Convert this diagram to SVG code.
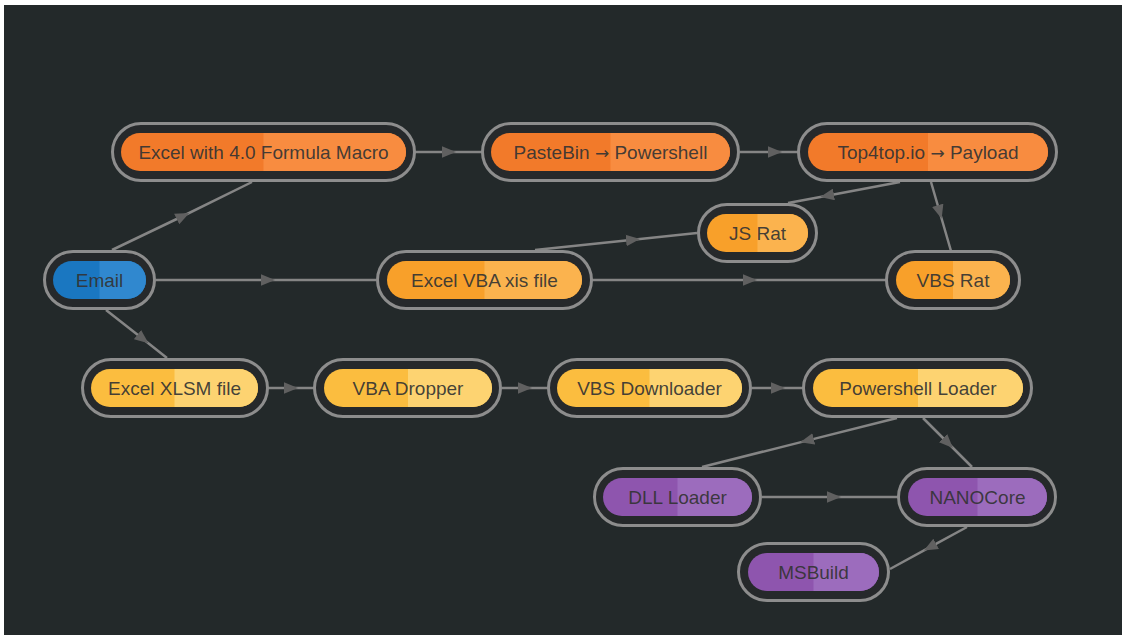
<svg xmlns="http://www.w3.org/2000/svg" width="1123" height="637" viewBox="0 0 1123 637">
<defs>
<style>
.outer{fill:#26292b;stroke:#8d8d8d;stroke-width:3}
.lbl{font-family:"Liberation Sans",Arial,sans-serif;font-size:19px;fill:#333;fill-opacity:0.92;text-anchor:middle}
.ar{font-family:"DejaVu Sans",sans-serif;font-size:17px}
.edge{fill:none;stroke:#858585;stroke-width:2.5;marker-mid:url(#arr)}
.orange .inL{fill:#f27a2a}.orange .inR{fill:#f88c40}
.amber .inL{fill:#f8a02a}.amber .inR{fill:#fbb34e}
.yellow .inL{fill:#fbbd3f}.yellow .inR{fill:#fdd371}
.blue .inL{fill:#1a77c1}.blue .inR{fill:#3088cf}
.purple .inL{fill:#8e55ae}.purple .inR{fill:#9c6cbd}
</style>
<marker id="arr" viewBox="0 0 12 10" refX="6" refY="5" markerWidth="14" markerHeight="12" markerUnits="userSpaceOnUse" orient="auto">
<path d="M0,0 L12,5 L0,10 Z" fill="#606060"/>
</marker>
</defs>
<rect x="0" y="0" width="1123" height="637" fill="#ffffff"/>
<rect x="4" y="5" width="1118" height="630" fill="#23292a"/>

<g id="connectors">
<polyline class="edge" points="112,250 183,216 252,182"/>
<polyline class="edge" points="156,280 268,280 376,280"/>
<polyline class="edge" points="106,310 143,339 167,358"/>
<polyline class="edge" points="415,152 449,152 482,152"/>
<polyline class="edge" points="740,152 775,152 798,152"/>
<polyline class="edge" points="900,182 827,195.7 788,203"/>
<polyline class="edge" points="931,182 939.7,212 951,251"/>
<polyline class="edge" points="535,250 633,239.7 697,233"/>
<polyline class="edge" points="592,280 750,280 886,280"/>
<polyline class="edge" points="268,388 291,388 314,388"/>
<polyline class="edge" points="502,388 525,388 548,388"/>
<polyline class="edge" points="752,388 778,388 803,388"/>
<polyline class="edge" points="897,418 807,440.6 702,467"/>
<polyline class="edge" points="923,418 948,443 972,467"/>
<polyline class="edge" points="762,497 834,497 898,497"/>
<polyline class="edge" points="967,527 930,547.2 890,569"/>
</g>

<g id="n-email" class="blue">
<rect class="outer" x="44.5" y="251.5" width="110" height="57" rx="28.5"/>
<rect class="inL" x="53" y="261" width="93" height="38" rx="19"/>
<path class="inR" d="M99.5,261 H127 A19,19 0 0 1 127,299 H99.5 Z"/>
<text class="lbl" x="99.5" y="287">Email</text>
</g>

<g id="n-excel40" class="orange">
<rect class="outer" x="112.5" y="123.5" width="302" height="57" rx="28.5"/>
<rect class="inL" x="121" y="133" width="285" height="38" rx="19"/>
<path class="inR" d="M263.5,133 H387 A19,19 0 0 1 387,171 H263.5 Z"/>
<text class="lbl" x="263.5" y="159">Excel with 4.0 Formula Macro</text>
</g>

<g id="n-pastebin" class="orange">
<rect class="outer" x="482.5" y="123.5" width="256" height="57" rx="28.5"/>
<rect class="inL" x="491" y="133" width="239" height="38" rx="19"/>
<path class="inR" d="M610.5,133 H711 A19,19 0 0 1 711,171 H610.5 Z"/>
<text class="lbl" x="610.5" y="159">PasteBin <tspan class="ar">→</tspan> Powershell</text>
</g>

<g id="n-top4top" class="orange">
<rect class="outer" x="798.5" y="123.5" width="258" height="57" rx="28.5"/>
<rect class="inL" x="808" y="133" width="240" height="38" rx="19"/>
<path class="inR" d="M928,133 H1029 A19,19 0 0 1 1029,171 H928 Z"/>
<text class="lbl" x="928" y="159">Top4top.io <tspan class="ar">→</tspan> Payload</text>
</g>

<g id="n-jsrat" class="amber">
<rect class="outer" x="698.5" y="204.5" width="118" height="57" rx="28.5"/>
<rect class="inL" x="707" y="214" width="101" height="38" rx="19"/>
<path class="inR" d="M757.5,214 H789 A19,19 0 0 1 789,252 H757.5 Z"/>
<text class="lbl" x="757.5" y="240">JS Rat</text>
</g>

<g id="n-excelvba" class="amber">
<rect class="outer" x="377.5" y="251.5" width="214" height="57" rx="28.5"/>
<rect class="inL" x="387" y="261" width="195" height="38" rx="19"/>
<path class="inR" d="M484.5,261 H563 A19,19 0 0 1 563,299 H484.5 Z"/>
<text class="lbl" x="484.5" y="287">Excel VBA xis file</text>
</g>

<g id="n-vbsrat" class="amber">
<rect class="outer" x="886.5" y="251.5" width="133" height="57" rx="28.5"/>
<rect class="inL" x="896" y="261" width="114" height="38" rx="19"/>
<path class="inR" d="M953,261 H991 A19,19 0 0 1 991,299 H953 Z"/>
<text class="lbl" x="953" y="287">VBS Rat</text>
</g>

<g id="n-xlsm" class="yellow">
<rect class="outer" x="82.5" y="359.5" width="185" height="57" rx="28.5"/>
<rect class="inL" x="91" y="369" width="167" height="38" rx="19"/>
<path class="inR" d="M174.5,369 H239 A19,19 0 0 1 239,407 H174.5 Z"/>
<text class="lbl" x="174.5" y="395">Excel XLSM file</text>
</g>

<g id="n-vbadropper" class="yellow">
<rect class="outer" x="314.5" y="359.5" width="186" height="57" rx="28.5"/>
<rect class="inL" x="324" y="369" width="168" height="38" rx="19"/>
<path class="inR" d="M408,369 H473 A19,19 0 0 1 473,407 H408 Z"/>
<text class="lbl" x="408" y="395">VBA Dropper</text>
</g>

<g id="n-vbsdownloader" class="yellow">
<rect class="outer" x="548.5" y="359.5" width="202" height="57" rx="28.5"/>
<rect class="inL" x="557" y="369" width="185" height="38" rx="19"/>
<path class="inR" d="M649.5,369 H723 A19,19 0 0 1 723,407 H649.5 Z"/>
<text class="lbl" x="649.5" y="395">VBS Downloader</text>
</g>

<g id="n-psloader" class="yellow">
<rect class="outer" x="803.5" y="359.5" width="228" height="57" rx="28.5"/>
<rect class="inL" x="813" y="369" width="210" height="38" rx="19"/>
<path class="inR" d="M918,369 H1004 A19,19 0 0 1 1004,407 H918 Z"/>
<text class="lbl" x="918" y="395">Powershell Loader</text>
</g>

<g id="n-dllloader" class="purple">
<rect class="outer" x="594.5" y="468.5" width="166" height="57" rx="28.5"/>
<rect class="inL" x="603" y="478" width="149" height="38" rx="19"/>
<path class="inR" d="M677.5,478 H733 A19,19 0 0 1 733,516 H677.5 Z"/>
<text class="lbl" x="677.5" y="504">DLL Loader</text>
</g>

<g id="n-nanocore" class="purple">
<rect class="outer" x="898.5" y="468.5" width="157" height="57" rx="28.5"/>
<rect class="inL" x="908" y="478" width="139" height="38" rx="19"/>
<path class="inR" d="M977.5,478 H1028 A19,19 0 0 1 1028,516 H977.5 Z"/>
<text class="lbl" x="977.5" y="504">NANOCore</text>
</g>

<g id="n-msbuild" class="purple">
<rect class="outer" x="738.5" y="543.5" width="150" height="57" rx="28.5"/>
<rect class="inL" x="748" y="553" width="131" height="38" rx="19"/>
<path class="inR" d="M813.5,553 H860 A19,19 0 0 1 860,591 H813.5 Z"/>
<text class="lbl" x="813.5" y="579">MSBuild</text>
</g>
</svg>
